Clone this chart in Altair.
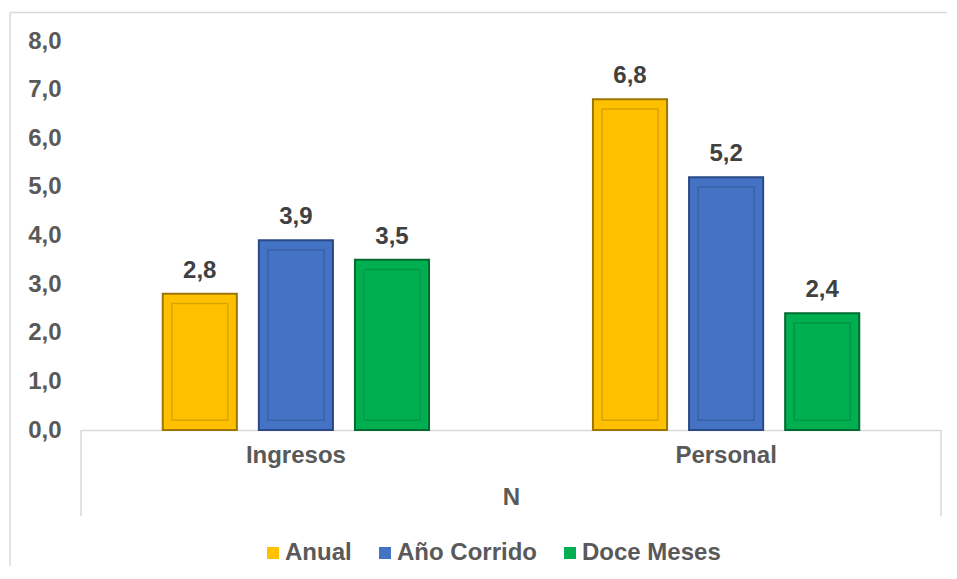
import altair as alt
import pandas as pd

categorias = ["Ingresos", "Personal"]
series = ["Anual", "Año Corrido", "Doce Meses"]
anual = [2.8, 6.8]
ano_corrido = [3.9, 5.2]
doce_meses = [3.5, 2.4]
colores = ["#FFC000", "#4472C4", "#00B050"]
bordes = ["#9C7600", "#2A4A85", "#006B30"]

rows = []
for serie, vals in zip(series, [anual, ano_corrido, doce_meses]):
    for c, v in zip(categorias, vals):
        rows.append({"cat": c, "serie": serie, "v": v})
df = pd.DataFrame(rows)

FONT = "Liberation Sans"
FS = 24
W, H = 860, 389

x_enc = alt.X(
    "cat:N", sort=categorias,
    scale=alt.Scale(paddingInner=0.381, paddingOuter=0.19),
    axis=alt.Axis(title="N", labelAngle=0, ticks=False, domain=True,
                  domainColor="#D9D9D9", domainWidth=1.5,
                  labelFont=FONT, labelFontSize=FS, labelFontWeight="bold",
                  labelColor="#595959", labelPadding=13,
                  titleFont=FONT, titleFontSize=FS, titleFontWeight="bold",
                  titleColor="#595959", titlePadding=18),
)
xo_enc = alt.XOffset("serie:N", sort=series,
                     scale=alt.Scale(paddingInner=0.229, paddingOuter=0))
y_enc = alt.Y(
    "v:Q", scale=alt.Scale(domain=[0, 8], nice=False),
    axis=alt.Axis(title=None, values=list(range(0, 9)), grid=False, ticks=False,
                  domain=False, labelFont=FONT, labelFontSize=FS,
                  labelFontWeight="bold", labelColor="#595959", labelPadding=20,
                  labelExpr="replace(format(datum.value, '.1f'), '.', ',')"),
)

base = alt.Chart(df).encode(x=x_enc, xOffset=xo_enc)

bars = base.mark_bar(strokeWidth=2).encode(
    y=y_enc,
    color=alt.Color("serie:N", sort=series,
                    scale=alt.Scale(domain=series, range=colores),
                    legend=alt.Legend(orient="none", legendX=180, legendY=500,
                                      direction="horizontal", title=None,
                                      symbolType="square", symbolSize=144,
                                      symbolStrokeWidth=0,
                                      labelFont=FONT, labelFontSize=FS,
                                      labelFontWeight="bold", labelColor="#595959",
                                      columnPadding=21, labelOffset=0)),
    stroke=alt.Stroke("serie:N", sort=series,
                      scale=alt.Scale(domain=series, range=bordes), legend=None),
)

inner = base.transform_calculate(
    top="datum.v - 0.2", bot="0.2"
).mark_bar(width=56, fillOpacity=0, stroke="black", strokeOpacity=0.15,
           strokeWidth=1.5).encode(
    y=alt.Y("top:Q", scale=alt.Scale(domain=[0, 8], nice=False)),
    y2="bot:Q",
)

labels = base.transform_calculate(
    lab="replace(format(datum.v, '.1f'), '.', ',')"
).mark_text(font=FONT, fontSize=FS, fontWeight="bold", color="#404040",
            baseline="alphabetic", dy=-16).encode(
    y=alt.Y("v:Q", scale=alt.Scale(domain=[0, 8], nice=False)),
    text="lab:N",
)

one = pd.DataFrame({"a": [0]})
box_left = alt.Chart(one).mark_rule(color="#D9D9D9", strokeWidth=1.5).encode(
    x=alt.value(0), y=alt.value(H), y2=alt.value(475))
box_right = alt.Chart(one).mark_rule(color="#D9D9D9", strokeWidth=1.5).encode(
    x=alt.value(W), y=alt.value(H), y2=alt.value(475))
border_top = alt.Chart(one).mark_rule(color="#D9D9D9", strokeWidth=1.5).encode(
    x=alt.value(-71), x2=alt.value(900), y=alt.value(-28.5))
border_left = alt.Chart(one).mark_rule(color="#D9D9D9", strokeWidth=1.5).encode(
    x=alt.value(-71), y=alt.value(-28.5), y2=alt.value(560))

chart = alt.layer(
    border_top, border_left, box_left, box_right, bars, inner, labels
).properties(
    width=W, height=H,
    background="white",
    autosize=alt.AutoSizeParams(type="none"),
    padding={"left": 73, "top": 33, "right": 6, "bottom": 136},
).configure_view(stroke=None)

chart.save("out.html", embed_options={"renderer": "svg", "actions": False})
